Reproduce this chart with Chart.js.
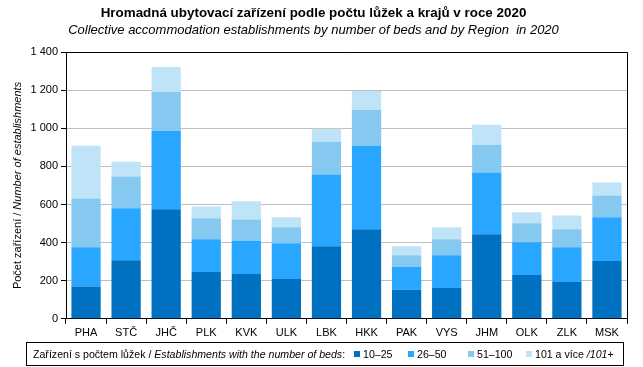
<!DOCTYPE html>
<html>
<head>
<meta charset="utf-8">
<script src="https://cdn.jsdelivr.net/npm/chart.js@4/dist/chart.umd.min.js"></script>
<style>
    body { margin: 0; background: #fff; font-family: "Liberation Sans", Arial, sans-serif; }
    #wrap { position: relative; width: 643px; height: 367px; }
    #legend {
        position: absolute; left: 26px; top: 342px; width: 596px; height: 22px;
        border: 1px solid #000;
        font-size: 10.6px; color: #000; line-height: 22px; white-space: nowrap;
    }
    #legend span { position: absolute; top: 0; }
    #legend i.box { display: inline-block; width: 6px; height: 6px; margin: 0 3px 0 0; vertical-align: 1px; }
</style>
</head>
<body>
<div id="wrap">
    <canvas id="myChart" width="643" height="367"></canvas>
    <div id="legend"></div>
</div>
<script>
"use strict";

const regions = ['PHA', 'STČ', 'JHČ', 'PLK', 'KVK', 'ULK', 'LBK', 'HKK', 'PAK', 'VYS', 'JHM', 'OLK', 'ZLK', 'MSK'];
const beds10to25 = [169, 308, 575, 246, 235, 209, 381, 470, 152, 162, 444, 230, 193, 303];
const beds26to50 = [207, 272, 412, 172, 173, 188, 377, 439, 120, 172, 324, 172, 183, 230];
const beds51to100 = [256, 167, 204, 110, 114, 84, 172, 188, 62, 84, 146, 100, 94, 115];
const beds101plus = [277, 78, 131, 62, 95, 52, 68, 99, 47, 63, 105, 57, 73, 68];
const seriesLabels = ['10–25', '26–50', '51–100', '101 a více'];
const yTicks = [0, 200, 400, 600, 800, 1000, 1200, 1400];

const colors = ['#0070C0', '#29A6FF', '#85C8F0', '#C0E4F7'];
const fontFamily = '"Liberation Sans", Arial, sans-serif';
const legendX = [327, 381, 441, 499];

function thousands(v) {
    return String(v).replace(/\B(?=(\d{3})+(?!\d))/g, ' ');
}

// frame round the plot area and the two-style y axis title
const framePlugin = {
    id: 'frame',
    afterDraw(chart) {
        const ctx = chart.ctx;
        const a = chart.chartArea;
        ctx.save();
        ctx.strokeStyle = '#000';
        ctx.lineWidth = 1;
        ctx.beginPath();
        ctx.moveTo(a.left, Math.round(a.top) + 0.5);
        ctx.lineTo(Math.round(a.right) + 0.5, Math.round(a.top) + 0.5);
        ctx.lineTo(Math.round(a.right) + 0.5, a.bottom);
        ctx.stroke();

        const part1 = 'Počet zařízení / ';
        const part2 = 'Number of establishments';
        const f1 = '11px ' + fontFamily;
        const f2 = 'italic 11px ' + fontFamily;
        ctx.font = f1;
        const w1 = ctx.measureText(part1).width;
        ctx.font = f2;
        const w2 = ctx.measureText(part2).width;
        ctx.translate(18, (a.top + a.bottom) / 2);
        ctx.rotate(-Math.PI / 2);
        ctx.fillStyle = '#000';
        ctx.textBaseline = 'middle';
        ctx.textAlign = 'left';
        let x = -(w1 + w2) / 2;
        ctx.font = f1;
        ctx.fillText(part1, x, 0);
        ctx.font = f2;
        ctx.fillText(part2, x + w1, 0);
        ctx.restore();
    }
};

function createDatasets() {
    const all = [beds10to25, beds26to50, beds51to100, beds101plus];
    return all.map((data, i) => ({
        label: seriesLabels[i],
        data,
        backgroundColor: colors[i],
        borderWidth: 0,
        categoryPercentage: 1,
        barPercentage: 0.73,
    }));
}

function createConfig(datasets) {
    return {
        type: 'bar',
        data: { labels: regions, datasets },
        plugins: [framePlugin],
        options: {
            responsive: false,
            animation: false,
            layout: { padding: { left: 0, right: 16, top: 0, bottom: 24 } },
            plugins: {
                legend: { display: false },
                tooltip: { enabled: false },
                title: {
                    display: true,
                    text: 'Hromadná ubytovací zařízení podle počtu lůžek a krajů v roce 2020',
                    color: '#000',
                    font: { family: fontFamily, size: 13.4, weight: 'bold' },
                    padding: { top: 5, bottom: 2 },
                },
                subtitle: {
                    display: true,
                    text: 'Collective accommodation establishments by number of beds and by Region  in 2020',
                    color: '#000',
                    font: { family: fontFamily, size: 13, style: 'italic' },
                    padding: { top: 0, bottom: 13.5 },
                },
            },
            scales: {
                x: {
                    stacked: true,
                    grid: {
                        offset: true,
                        drawOnChartArea: false,
                        color: '#000',
                        tickColor: '#000',
                        tickLength: 5,
                    },
                    border: { color: '#000', width: 1 },
                    ticks: {
                        color: '#000',
                        padding: 3,
                        font: { family: fontFamily, size: 11 },
                    },
                },
                y: {
                    stacked: true,
                    min: 0,
                    max: 1400,
                    afterFit(scale) { scale.width = 66; },
                    afterBuildTicks(scale) { scale.ticks = yTicks.map(v => ({ value: v })); },
                    grid: {
                        color: '#BFBFBF',
                        tickColor: '#000',
                        tickLength: 5,
                    },
                    border: { color: '#000', width: 1 },
                    ticks: {
                        color: '#000',
                        padding: 3,
                        font: { family: fontFamily, size: 11 },
                        callback: v => thousands(v),
                    },
                },
            },
        },
    };
}

function createLegend() {
    let html = '<span style="left:6px">Zařízení s počtem lůžek / <i>Establishments with the number of beds</i>:</span>';
    seriesLabels.forEach((lbl, i) => {
        const text = i === 3 ? lbl + ' <i>/101</i>+' : lbl;
        html += '<span style="left:' + legendX[i] + 'px"><i class="box" style="background:' +
            colors[i] + '"></i>' + text + '</span>';
    });
    document.getElementById('legend').innerHTML = html;
}

new Chart(document.getElementById('myChart'), createConfig(createDatasets()));
createLegend();
</script>
</body>
</html>
